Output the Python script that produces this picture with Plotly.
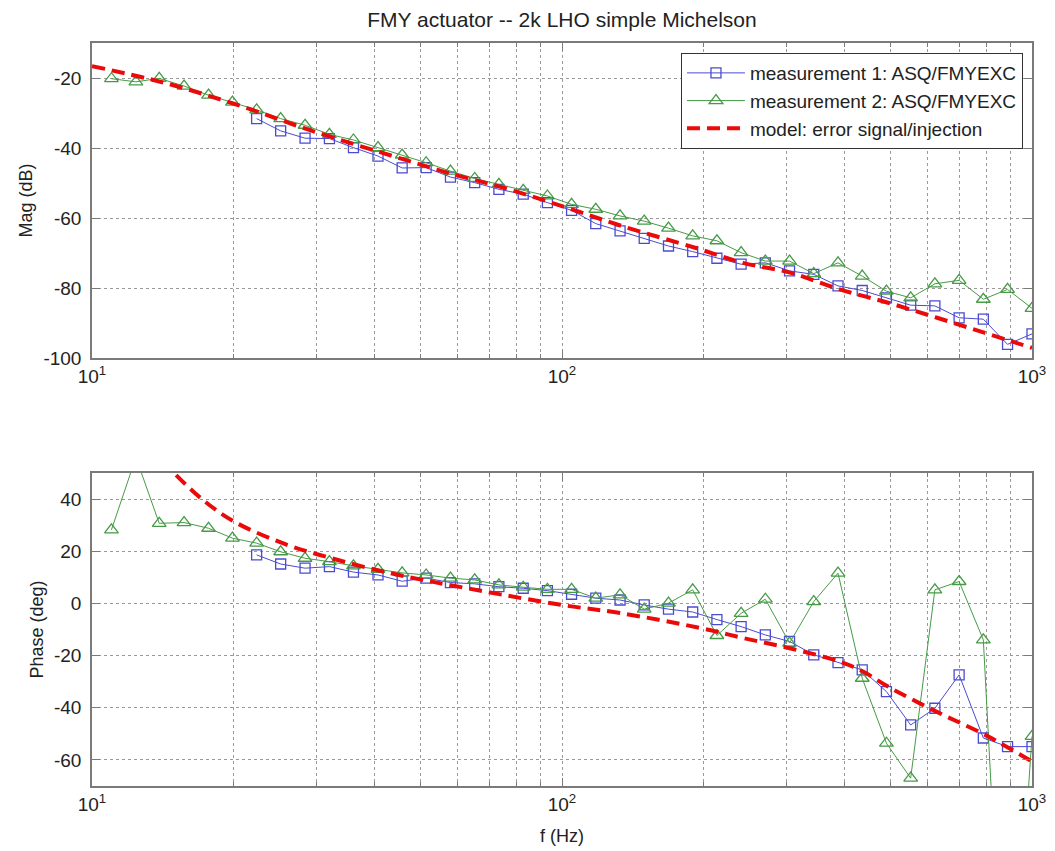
import plotly.graph_objects as go
from plotly.subplots import make_subplots

# ---------------- data ----------------
freq = [11.0, 12.4, 13.9, 15.7, 17.7, 19.9, 22.4, 25.2, 28.4, 32.0, 36.0, 40.6,
        45.7, 51.4, 57.9, 65.2, 73.4, 82.7, 93.1, 104.8, 118.0, 132.9, 149.6,
        168.5, 189.7, 213.6, 240.5, 270.8, 304.9, 343.3, 386.6, 435.3, 490.1,
        551.9, 621.4, 699.7, 787.9, 887.1, 1000.0]

# measurement 1 starts at the 7th frequency
freq_m1 = freq[6:]

mag_m1 = [-31.6, -35.1, -37.2, -37.3, -39.9, -42.3, -45.7, -45.6, -48.3, -49.9,
          -51.8, -53.2, -55.6, -57.8, -61.6, -63.7, -65.8, -68.0, -69.6, -71.5,
          -73.2, -72.8, -75.1, -76.1, -79.4, -80.7, -82.8, -84.9, -85.1, -88.5,
          -88.9, -96.1, -93.1]

mag_m2 = [-20.2, -21.1, -20.1, -22.3, -24.9, -26.9, -29.1, -31.6, -33.5, -36.1,
          -37.7, -39.9, -42.0, -44.2, -46.6, -48.7, -50.4, -52.1, -53.7, -56.1,
          -57.5, -59.4, -60.9, -62.9, -65.1, -66.5, -69.9, -72.3, -72.3, -75.9,
          -72.8, -76.6, -80.9, -82.8, -78.8, -77.8, -83.2, -80.4, -85.8]

phase_m1 = [18.6, 15.1, 13.5, 14.1, 12.0, 10.9, 8.5, 9.7, 8.0, 7.5, 6.4, 5.8,
            4.9, 3.5, 2.0, 1.3, -0.6, -2.2, -3.3, -6.2, -8.9, -12.1, -14.6,
            -19.7, -22.7, -25.5, -33.8, -46.6, -40.2, -27.4, -51.6, -54.9, -54.9]

phase_m2 = [28.2, 56.0, 30.7, 31.0, 28.8, 25.0, 23.1, 19.8, 17.3, 16.0, 14.4,
            13.1, 11.7, 10.9, 9.7, 9.0, 7.1, 6.2, 5.4, 5.4, 2.0, 3.3, -2.2, 0.1,
            5.2, -12.3, -3.8, 1.6, -15.2, 0.7, 11.6, -28.7, -53.6, -67.0, 5.2,
            8.4, -14.0, -190.0, -51.0]

model_f_mag = [10.0, 14.2, 20.2, 28.8, 45.9, 58.6, 74.9, 100.0, 134.2, 191.9,
               242.7, 305.5, 390.0, 494.0, 628.0, 794.0, 1000.0]
model_mag = [-16.6, -21.3, -27.5, -34.7, -43.2, -47.5, -51.3, -56.6, -62.3, -68.5,
             -72.8, -75.6, -80.4, -84.2, -88.5, -92.8, -97.1]

model_f_phase = [15.1, 17.0, 20.0, 25.7, 32.5, 41.2, 49.9, 58.7, 74.8, 99.9, 134.0,
                 197.6, 243.0, 305.0, 390.0, 437.0, 494.0, 626.0, 795.0, 1000.0]
model_phase = [49.2, 40.5, 31.5, 22.8, 17.2, 12.4, 9.2, 6.8, 3.3, -0.6, -3.8,
               -9.5, -13.3, -17.2, -22.3, -26.1, -31.9, -41.5, -50.4, -60.6]

names = ["measurement 1: ASQ/FMYEXC", "measurement 2: ASQ/FMYEXC",
         "model: error signal/injection"]
title_text = "FMY actuator -- 2k LHO simple Michelson"

x_major = [10, 100, 1000]
x_major_text = ["10<sup>1</sup>", "10<sup>2</sup>", "10<sup>3</sup>"]
x_minor = [20, 30, 40, 50, 60, 70, 80, 90, 200, 300, 400, 500, 600, 700, 800, 900]
mag_ticks = [-100, -80, -60, -40, -20]
phase_ticks = [-60, -40, -20, 0, 20, 40]

# ---------------- styling ----------------
BLUE = "rgb(75,75,210)"
GREEN = "rgb(70,155,70)"
RED = "rgb(235,10,10)"
FRAME = "#7a7a7a"
GRID = "#9a9a9a"
FONT = "Liberation Sans, Arial, Helvetica, sans-serif"

fig = make_subplots(rows=2, cols=1)

def add_set(row, f1, y1, f2, y2, fm, ym, show):
    fig.add_trace(go.Scatter(x=f1, y=y1, mode="lines+markers", name=names[0],
                             line=dict(color=BLUE, width=1),
                             marker=dict(symbol="square-open", size=10, color=BLUE,
                                         line=dict(width=1.3, color=BLUE)),
                             showlegend=show, legendrank=1), row=row, col=1)
    fig.add_trace(go.Scatter(x=f2, y=y2, mode="lines+markers", name=names[1],
                             line=dict(color=GREEN, width=1),
                             marker=dict(symbol="triangle-up-open", size=12, color=GREEN,
                                         line=dict(width=1.3, color=GREEN)),
                             showlegend=show, legendrank=2), row=row, col=1)
    fig.add_trace(go.Scatter(x=fm, y=ym, mode="lines", name=names[2],
                             line=dict(color=RED, width=4, dash="13px,7px", shape="spline"),
                             showlegend=show, legendrank=3), row=row, col=1)

add_set(1, freq_m1, mag_m1, freq, mag_m2, model_f_mag, model_mag, True)
add_set(2, freq_m1, phase_m1, freq, phase_m2, model_f_phase, model_phase, False)

xcommon = dict(type="log", range=[1, 3], tickvals=x_major, ticktext=x_major_text,
               ticks="inside", ticklen=8, tickcolor=FRAME, tickwidth=1,
               showline=True, linecolor=FRAME, linewidth=1.5, mirror="ticks",
               showgrid=True, gridcolor=GRID, griddash="dot", gridwidth=1,
               minor=dict(tickvals=x_minor, ticks="inside", ticklen=4, tickcolor=FRAME,
                          showgrid=True, gridcolor=GRID, griddash="dot", gridwidth=1),
               tickfont=dict(family=FONT, size=19, color="#222"),
               zeroline=False, domain=[0, 1], automargin=False)

ycommon = dict(ticks="inside", ticklen=8, tickcolor=FRAME, tickwidth=1,
               showline=True, linecolor=FRAME, linewidth=1.5, mirror="ticks",
               showgrid=True, gridcolor=GRID, griddash="dot", gridwidth=1,
               tickfont=dict(family=FONT, size=19, color="#222"),
               zeroline=False, ticklabelstandoff=5, automargin=False)

fig.update_layout(
    xaxis=dict(**xcommon, anchor="y"),
    xaxis2=dict(**xcommon, anchor="y2",
                title=dict(text="f (Hz)", font=dict(family=FONT, size=18, color="#222"),
                           standoff=16)),
    yaxis=dict(**ycommon, range=[-100, -10], domain=[0.576, 1.0],
               tickvals=mag_ticks, ticktext=[str(v) for v in mag_ticks],
               title=dict(text="Mag (dB)", font=dict(family=FONT, size=18, color="#222"),
                          standoff=6)),
    yaxis2=dict(**ycommon, range=[-70, 50], domain=[0.0, 0.4213],
                tickvals=phase_ticks, ticktext=[str(v) for v in phase_ticks],
                title=dict(text="Phase (deg)", font=dict(family=FONT, size=18, color="#222"),
                           standoff=6)),
    width=1055, height=851,
    margin=dict(l=92, r=23, t=43, b=65),
    paper_bgcolor="white", plot_bgcolor="white",
    title=dict(text=title_text, x=0.5, xref="paper", xanchor="center",
               y=1 - 20 / 851, yref="container", yanchor="middle",
               font=dict(family=FONT, size=21, color="#222")),
    legend=dict(x=0.9904, y=0.9865, xanchor="right", yanchor="top",
                bgcolor="white", bordercolor="#333", borderwidth=1,
                font=dict(family=FONT, size=19, color="#222"),
                tracegroupgap=0, itemwidth=58),
    showlegend=True,
)

fig.write_html("out.html")
